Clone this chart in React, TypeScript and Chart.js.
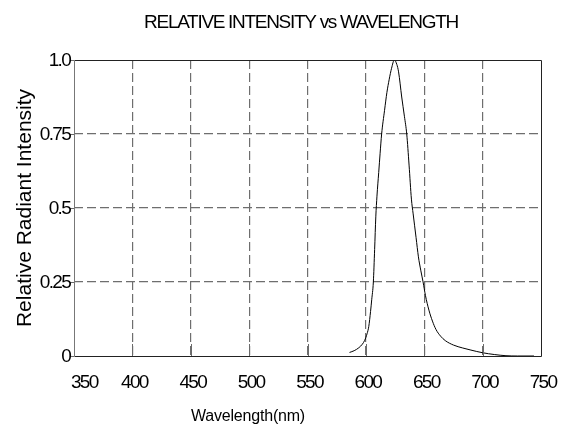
import React, { useEffect, useRef } from "react";
import { Chart, registerables } from "chart.js";

Chart.register(...registerables);

const titleText = "RELATIVE INTENSITY vs WAVELENGTH";
const xTitle = "Wavelength(nm)";
const yTitle = "Relative Radiant Intensity";

const xTicks = [350, 400, 450, 500, 550, 600, 650, 700, 750];
const yTicks = [0, 0.25, 0.5, 0.75, 1.0];
const yTickLabels = ["0", "0.25", "0.5", "0.75", "1.0"];

const wavelengths = [
  586, 590, 594, 597, 599, 601, 602.5, 604, 605, 606.4, 607.5, 608.5, 609.5, 611, 612.2,
  613.5, 616, 618, 620, 622, 624.4, 626.5, 628, 630.7, 633, 635, 637, 639, 640.5, 643,
  645, 647, 649, 651, 654, 657, 660, 664, 668, 675, 683, 690, 700, 710, 720, 730, 744,
];
const intensity = [
  0.012, 0.018, 0.028, 0.04, 0.053, 0.075, 0.1, 0.15, 0.19, 0.25, 0.36, 0.47, 0.54, 0.62, 0.685,
  0.75, 0.83, 0.89, 0.935, 0.972, 1.0, 0.985, 0.96, 0.875, 0.81, 0.75, 0.645, 0.53, 0.48, 0.4,
  0.335, 0.29, 0.25, 0.205, 0.155, 0.118, 0.09, 0.067, 0.052, 0.037, 0.027, 0.02, 0.011, 0.005, 0.001, 0, 0,
];

const FONT = "'Liberation Sans', Arial, sans-serif";

const framePlugin = {
  id: "frame",
  afterDraw(chart: any) {
    const ctx: CanvasRenderingContext2D = chart.ctx;
    const { left, right, top, bottom } = chart.chartArea;
    const xs = chart.scales.x;
    const ys = chart.scales.y;
    ctx.save();
    ctx.strokeStyle = "#6a6a6a";
    ctx.lineWidth = 1;
    ctx.setLineDash([]);
    xTicks.forEach((v) => {
      const px = Math.round(xs.getPixelForValue(v)) + 0.5;
      ctx.beginPath();
      ctx.moveTo(px, bottom);
      ctx.lineTo(px, bottom - 12);
      ctx.stroke();
    });
    yTicks.forEach((v) => {
      const py = Math.round(ys.getPixelForValue(v)) + 0.5;
      ctx.beginPath();
      ctx.moveTo(left - 4, py);
      ctx.lineTo(left, py);
      ctx.stroke();
    });
    ctx.strokeStyle = "#222";
    ctx.beginPath();
    ctx.moveTo(Math.round(left) + 0.5, Math.round(bottom) + 0.5);
    ctx.lineTo(Math.round(right) + 0.5, Math.round(bottom) + 0.5);
    ctx.lineTo(Math.round(right) + 0.5, Math.round(top) + 0.5);
    ctx.lineTo(Math.round(left) + 0.5, Math.round(top) + 0.5);
    ctx.stroke();
    ctx.strokeStyle = "#777";
    ctx.beginPath();
    ctx.moveTo(Math.round(left) + 0.5, Math.round(top) + 0.5);
    ctx.lineTo(Math.round(left) + 0.5, Math.round(bottom) + 0.5);
    ctx.stroke();

    ctx.fillStyle = "#000";
    (ctx as any).letterSpacing = "-1.3px";
    ctx.font = `19px ${FONT}`;
    ctx.textAlign = "center";
    ctx.textBaseline = "alphabetic";
    ctx.fillText(titleText, 301, 27.5);

    (ctx as any).letterSpacing = "-1.7px";
    ctx.font = `19px ${FONT}`;
    xTicks.forEach((v) => {
      const px = xs.getPixelForValue(v);
      const w = ctx.measureText(String(v)).width;
      let cx = px + 2;
      if (cx - w / 2 < left - 3) cx = left - 3 + w / 2;
      ctx.textAlign = "center";
      ctx.fillText(String(v), cx, 388);
    });
    ctx.textAlign = "right";
    ctx.textBaseline = "middle";
    yTicks.forEach((v, i) => {
      const py = ys.getPixelForValue(v);
      ctx.fillText(yTickLabels[i], left - 4, py + 1);
    });

    (ctx as any).letterSpacing = "-0.2px";
    ctx.font = `16px ${FONT}`;
    ctx.textAlign = "center";
    ctx.textBaseline = "alphabetic";
    ctx.fillText(xTitle, 248, 421);

    (ctx as any).letterSpacing = "0px";
    ctx.font = `21px ${FONT}`;
    ctx.translate(31, (top + bottom) / 2);
    ctx.rotate(-Math.PI / 2);
    ctx.textAlign = "center";
    ctx.textBaseline = "alphabetic";
    ctx.fillText(yTitle, 0, 0);
    ctx.restore();
  },
};

export default function App() {
  const ref = useRef<HTMLCanvasElement | null>(null);
  useEffect(() => {
    if (!ref.current) return;
    const points = wavelengths.map((w, i) => ({ x: w, y: intensity[i] }));
    const chart = new Chart(ref.current, {
      type: "line",
      data: {
        datasets: [
          {
            data: points,
            borderColor: "#000",
            borderWidth: 1,
            pointRadius: 0,
            fill: false,
            tension: 0.4,
            cubicInterpolationMode: "monotone",
          },
        ],
      },
      options: {
        responsive: false,
        animation: false,
        devicePixelRatio: 1,
        layout: { padding: { left: 74, right: 30, top: 60, bottom: 76 } },
        plugins: { legend: { display: false }, tooltip: { enabled: false }, title: { display: false } },
        scales: {
          x: {
            type: "linear",
            min: 350,
            max: 750,
            afterBuildTicks: (s: any) => {
              s.ticks = xTicks.map((v) => ({ value: v }));
            },
            afterFit: (s: any) => {
              s.height = 0;
            },
            ticks: { display: false },
            grid: {
              color: (c: any) => (c.tick && (c.tick.value === 350 || c.tick.value === 750) ? "rgba(0,0,0,0)" : "#6e6e6e"),
              lineWidth: 1.2,
              drawTicks: false,
            },
            border: { display: false, dash: [9, 4] },
          },
          y: {
            type: "linear",
            min: 0,
            max: 1,
            afterBuildTicks: (s: any) => {
              s.ticks = yTicks.map((v) => ({ value: v }));
            },
            afterFit: (s: any) => {
              s.width = 0;
            },
            ticks: { display: false },
            grid: {
              color: (c: any) => (c.tick && (c.tick.value === 0 || c.tick.value === 1) ? "rgba(0,0,0,0)" : "#6e6e6e"),
              lineWidth: 1.2,
              drawTicks: false,
            },
            border: { display: false, dash: [9, 4] },
          },
        },
      },
      plugins: [framePlugin],
    });
    return () => chart.destroy();
  }, []);
  return (
    <div style={{ position: "absolute", left: 0, top: 0, width: 571, height: 432, background: "#fff" }}>
      <canvas ref={ref} width={571} height={432} />
    </div>
  );
}
